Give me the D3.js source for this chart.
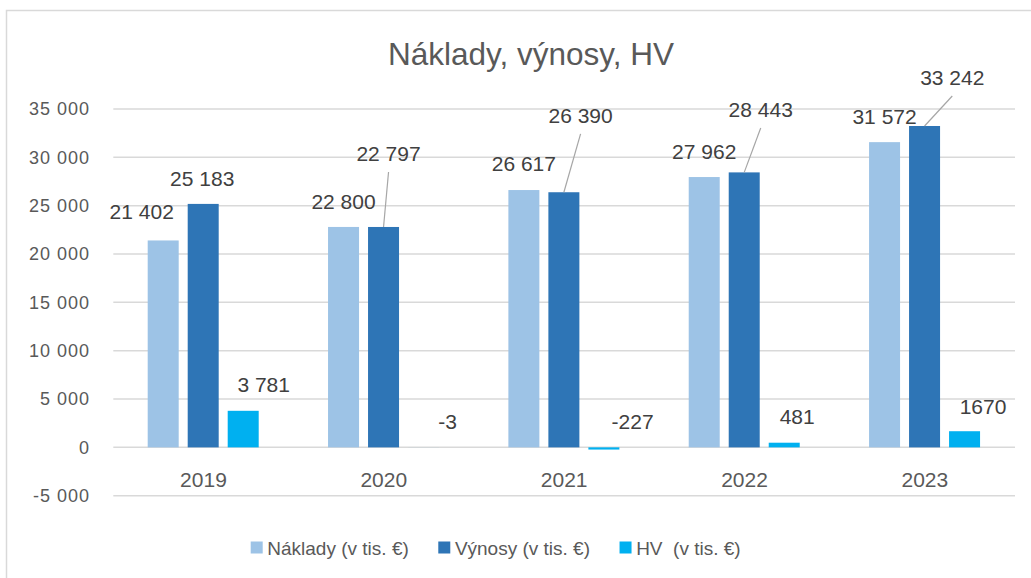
<!DOCTYPE html>
<html>
<head>
<meta charset="utf-8">
<script src="https://cdn.jsdelivr.net/npm/d3@7"></script>
<style>
  html, body { margin: 0; padding: 0; background: #fff; }
  svg { display: block; font-family: "Liberation Sans", Arial, sans-serif; }
  text { white-space: pre; }
</style>
</head>
<body>
<svg id="chart" width="1031" height="578"></svg>
<script>
// ---- data ----
const years = ["2019", "2020", "2021", "2022", "2023"];
const naklady = [21402, 22800, 26617, 27962, 31572];
const vynosy = [25183, 22797, 26390, 28443, 33242];
const hv = [3781, -3, -227, 481, 1670];
const hvLabels = ["3 781", "-3", "-227", "481", "1670"];
const seriesNames = ["Náklady (v tis. €)", "Výnosy (v tis. €)", "HV  (v tis. €)"];
const yTicks = [-5000, 0, 5000, 10000, 15000, 20000, 25000, 30000, 35000];
const title = "Náklady, výnosy, HV";

// ---- layout (label nudges as placed in the original) ----
const colors = ["#9DC3E6", "#2E75B6", "#00B0F0"];
const labelDx = [[-21.5, 0, 0, 0, 0], [-1, 5, 16.7, 16.5, 27.7], [20.5, 24, 28.7, 13, 18.5]];
const labelGap = [[21, 18.3, 18.6, 18.3, 18.3], [17.5, 66, 69.4, 55.4, 41], [18.7, 18.3, 18.3, 18.3, 17.7]];
const leaderSeries = 1;

const loc = d3.formatLocale({ decimal: ",", thousands: "\u00a0", grouping: [3], currency: ["", "€"], minus: "-" });
const fmt = loc.format(",d");

const svg = d3.select("#chart");

// frame
svg.append("rect").attr("x", 6.5).attr("y", 10.5).attr("width", 1100).attr("height", 700)
  .attr("fill", "#fff").attr("stroke", "#d9d9d9").attr("stroke-width", 1.5);

const plotL = 113.3, plotR = 1015;
const y = d3.scaleLinear().domain([-5000, 35000]).range([495.7, 109]);
const x0 = d3.scaleBand().domain(years).range([plotL, plotR]).padding(0);
const x1 = d3.scaleBand().domain([0, 1, 2]).range([34.4, 145.4]).paddingInner(0.225).paddingOuter(0);

// gridlines
svg.append("g").selectAll("line").data(yTicks).join("line")
  .attr("x1", plotL).attr("x2", plotR)
  .attr("y1", d => y(d)).attr("y2", d => y(d))
  .attr("stroke", "#d9d9d9").attr("stroke-width", 1.5);

// y tick labels
svg.append("g").selectAll("text").data(yTicks).join("text")
  .attr("x", 90).attr("y", d => y(d)).attr("dy", 6.3)
  .attr("text-anchor", "end")
  .attr("font-size", 18).attr("letter-spacing", 1)
  .attr("fill", "#595959")
  .text(d => fmt(d));

// title
svg.append("text").attr("x", 531).attr("y", 65).attr("text-anchor", "middle")
  .attr("font-size", 31.5).attr("fill", "#595959").text(title);

const series = [naklady, vynosy, hv];
const rows = [];
series.forEach((vals, s) => vals.forEach((v, i) => rows.push({ s, i, v })));

// bars
svg.append("g").selectAll("rect").data(rows).join("rect")
  .attr("x", d => x0(years[d.i]) + x1(d.s))
  .attr("width", x1.bandwidth())
  .attr("y", d => y(Math.max(0, d.v)))
  .attr("height", d => Math.abs(y(d.v) - y(0)))
  .attr("fill", d => colors[d.s]);

// category labels
svg.append("g").selectAll("text").data(years).join("text")
  .attr("x", d => x0(d) + x0.bandwidth() / 2).attr("y", 486.7)
  .attr("text-anchor", "middle").attr("font-size", 21).attr("fill", "#595959")
  .text(d => d);

// data labels + leader lines
const lab = rows.map(d => {
  const barCx = x0(years[d.i]) + x1(d.s) + x1.bandwidth() / 2;
  const barTop = y(Math.max(0, d.v));
  const cx = barCx + labelDx[d.s][d.i];
  const base = barTop - labelGap[d.s][d.i];
  return { ...d, barCx, barTop, cx, base, text: d.s === 2 ? hvLabels[d.i] : fmt(d.v) };
});

svg.append("g").selectAll("line").data(lab.filter(d => d.s === leaderSeries && d.i > 0)).join("line")
  .attr("x1", d => d.cx).attr("y1", d => d.base + 11)
  .attr("x2", d => d.barCx).attr("y2", d => d.barTop)
  .attr("stroke", "#a6a6a6").attr("stroke-width", 1.2);

svg.append("g").selectAll("text").data(lab).join("text")
  .attr("x", d => d.cx).attr("y", d => d.base)
  .attr("text-anchor", "middle").attr("font-size", 21).attr("fill", "#404040")
  .text(d => d.text);

// legend
const leg = svg.append("g");
let lx = 250.7;
seriesNames.forEach((name, s) => {
  leg.append("rect").attr("x", lx).attr("y", 541.5).attr("width", 12).attr("height", 12).attr("fill", colors[s]);
  const t = leg.append("text").attr("x", lx + 16.6).attr("y", 555)
    .attr("font-size", 19).attr("fill", "#595959").text(name);
  lx = lx + 16.6 + t.node().getComputedTextLength() + 29.5;
});
</script>
</body>
</html>
